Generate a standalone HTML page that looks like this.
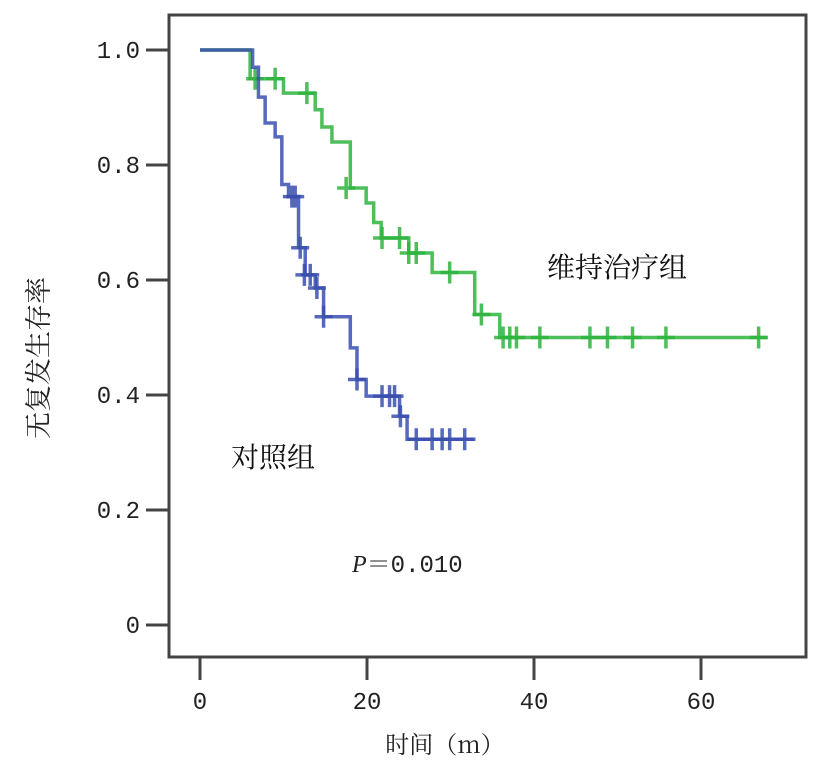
<!DOCTYPE html>
<html><head><meta charset="utf-8"><style>
body{margin:0;background:#fff}
svg text{font-family:"Liberation Mono","Noto Serif CJK SC",monospace}
.cjk{font-family:"Noto Serif CJK SC","Noto Sans CJK SC",serif !important}
</style></head><body>
<svg id="chart" width="820" height="768" xmlns="http://www.w3.org/2000/svg">
<rect x="169" y="15" width="637" height="642" fill="none" stroke="#444" stroke-width="3"/>
<g id="axes"></g>
<g id="series"></g>
<text class="cjk" transform="translate(48,358) rotate(-90)" text-anchor="middle" font-size="27" fill="#222">无复发生存率</text>
<text class="cjk" x="445" y="753" text-anchor="middle" font-size="24" fill="#222">时间（m）</text>
<text class="cjk" x="547" y="277" font-size="28" fill="#111">维持治疗组</text>
<text class="cjk" x="231" y="467" font-size="28" fill="#111">对照组</text>
<text x="352" y="572" font-size="24" fill="#222"><tspan font-style="italic" font-family="Liberation Serif">P</tspan><tspan class="cjk">＝</tspan>0.010</text>
</svg>
<script>
const xTicks=[0,20,40,60];
const yTicks=[0,0.2,0.4,0.6,0.8,1.0];
const yTickLabels=["0","0.2","0.4","0.6","0.8","1.0"];
const greenTimes=[0,6,10,13.8,14.6,15.8,18,19.9,20.8,21.7,25,27.8,32.9,35.9,68];
const greenSurv=[1.0,0.95,0.925,0.896,0.866,0.84,0.76,0.734,0.70,0.673,0.647,0.613,0.54,0.50,0.50];
const greenCensT=[6.6,9.0,12.8,17.5,21.8,23.9,25,25.9,29.9,33.7,36.3,37.1,37.9,40.7,46.7,48.8,51.8,55.8,66.9];
const greenCensS=[0.95,0.95,0.925,0.76,0.673,0.673,0.647,0.647,0.613,0.54,0.5,0.5,0.5,0.5,0.5,0.5,0.5,0.5,0.5];
const blueTimes=[0,6.3,7,7.8,9,9.8,10.6,11.8,12.6,13.8,14.8,18,18.8,19.9,23.9,24.8,33];
const blueSurv=[1.0,0.97,0.918,0.873,0.849,0.766,0.745,0.656,0.609,0.586,0.536,0.482,0.427,0.398,0.363,0.323,0.323];
const blueCensT=[11,11.4,12,12.5,13.2,14,14.8,18.8,21.8,22.7,23.3,24,25.9,27.8,29,29.9,31.7];
const blueCensS=[0.745,0.745,0.656,0.609,0.609,0.586,0.536,0.427,0.398,0.398,0.398,0.363,0.323,0.323,0.323,0.323,0.323];
const NS="http://www.w3.org/2000/svg";
const X=t=>200+t*8.35, Y=s=>625-s*575;
function mk(tag,attrs,parent){const e=document.createElementNS(NS,tag);for(const k in attrs)e.setAttribute(k,attrs[k]);parent.appendChild(e);return e;}
const ax=document.getElementById('axes');
xTicks.forEach(t=>{
 const l=mk('line',{x1:X(t),x2:X(t),y1:657,y2:680,stroke:'#444','stroke-width':3},ax);
 
 
 const tx=mk('text',{x:X(t),y:709,'text-anchor':'middle','font-size':24,fill:'#222'},ax);tx.textContent=t;
 
 
});
yTicks.forEach((s,i)=>{
 const l=mk('line',{x1:146,x2:169,y1:Y(s),y2:Y(s),stroke:'#444','stroke-width':3},ax);
 
 
 const tx=mk('text',{x:140,y:Y(s)+8,'text-anchor':'end','font-size':24,fill:'#222'},ax);tx.textContent=yTickLabels[i];
 
 
});
const sg=document.getElementById('series');
function draw(times,surv,ct,cs,color,name){
 let d='M'+X(times[0])+','+Y(surv[0]);
 for(let i=1;i<times.length;i++){d+=' H'+X(times[i])+' V'+Y(surv[i]);}
 const p=mk('path',{d:d,fill:'none',stroke:color,'stroke-width':3.5,opacity:0.85},sg);
 
 
 ct.forEach((t,i)=>{
  const g=mk('path',{d:'M'+(X(t)-9)+','+Y(cs[i])+' h18 M'+X(t)+','+(Y(cs[i])-11)+' v22',stroke:color,'stroke-width':3.5,opacity:0.85},sg);
  
  
 });
}
draw(greenTimes,greenSurv,greenCensT,greenCensS,'#2fb43e','maintenance');
draw(blueTimes,blueSurv,blueCensT,blueCensS,'#3a4fb0','control');
</script>
</body></html>
